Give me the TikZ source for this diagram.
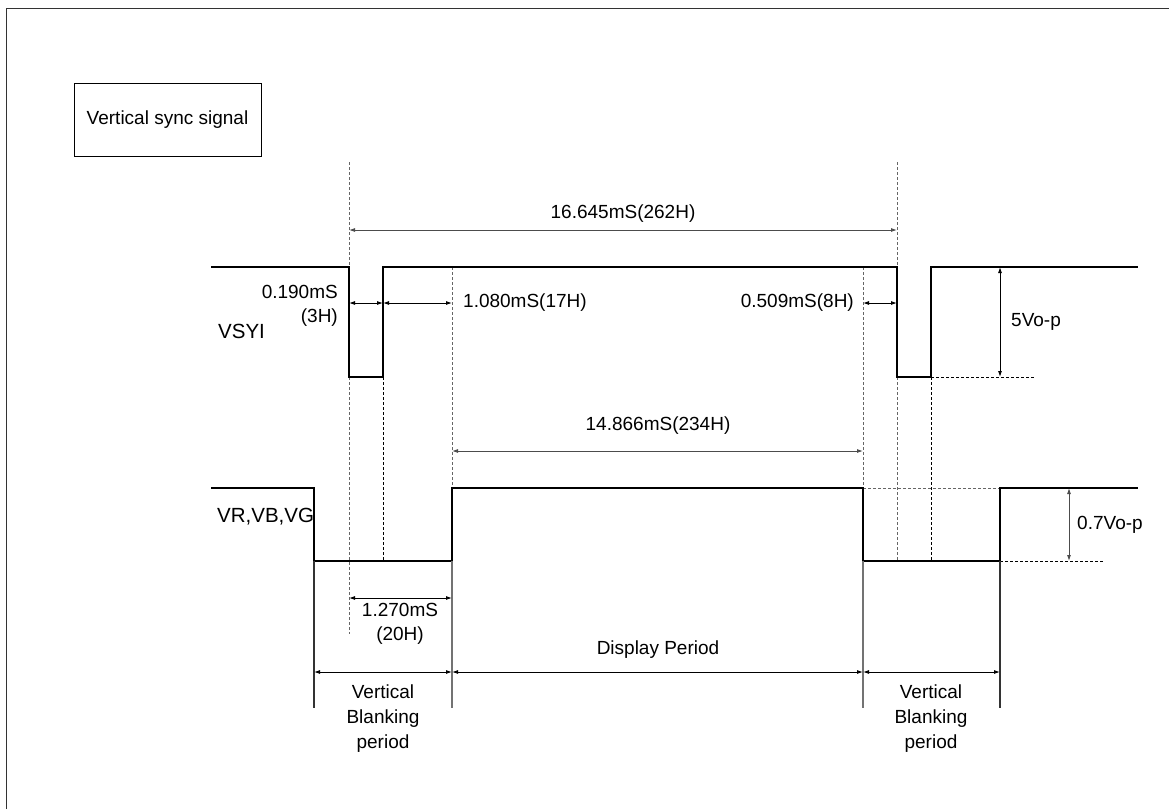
\documentclass[tikz,border=0pt]{standalone}
\usepackage{fontspec}
\setmainfont{Liberation Sans}
\usetikzlibrary{arrows.meta}
\begin{document}
\begin{tikzpicture}[x=1pt,y=-1pt,
  sig/.style={line width=1.6pt,black},
  guide/.style={densely dashed,line width=0.8pt,black!60},
  guideb/.style={densely dashed,line width=0.8pt,black},
  dim/.style={line width=0.9pt,black!70,{Latex[length=6pt,width=4pt]}-{Latex[length=6pt,width=4pt]}},
  tick/.style={line width=1.1pt,black!80},
  lbl/.style={font=\fontsize{19}{21}\selectfont,inner sep=0pt},
  big/.style={font=\fontsize{20.5}{23}\selectfont,inner sep=0pt}]
\useasboundingbox (0,0) rectangle (1169,809);
% frame
\draw[line width=0.8pt,black!80] (6,809) -- (6,8) -- (1169,8);
% title box
\node[draw,line width=0.8pt,minimum width=187pt,minimum height=73pt,lbl] (title) at (167.5,119.5) {Vertical sync signal};
% key coordinates
\coordinate (a1) at (349,162); \coordinate (a2) at (349,634);
\coordinate (b1) at (383,377); \coordinate (b2) at (383,561);
\coordinate (c1) at (452,267); \coordinate (c2) at (452,488);
\coordinate (d1) at (863,267); \coordinate (d2) at (863,488);
\coordinate (e1) at (897,162); \coordinate (e2) at (897,561);
\coordinate (f1) at (931,377); \coordinate (f2) at (931,561);
% guides
\draw[guide] (a1) -- (a2);
\draw[guideb] (b1) -- (b2);
\draw[guide] (c1) -- (c2);
\draw[guide] (d1) -- (d2);
\draw[guide] (e1) -- (e2);
\draw[guideb] (f1) -- (f2);
\coordinate (g1) at (931,377); \coordinate (g2) at (1035,377);
\draw[guideb] (g1) -- (g2);
\coordinate (h1) at (863,488); \coordinate (h2) at (1000,488);
\draw[guide] (h1) -- (h2);
\coordinate (i1) at (1000,561); \coordinate (i2) at (1103,561);
\draw[guideb] (i1) -- (i2);
% VSYI signal
\draw[sig] (211,267) -- (349,267) -- (349,377) -- (383,377) -- (383,267) -- (897,267) -- (897,377) -- (931,377) -- (931,267) -- (1138,267);
% VR signal
\draw[sig] (211,488) -- (314,488) -- (314,561) -- (452,561) -- (452,488) -- (863,488) -- (863,561) -- (1000,561) -- (1000,488) -- (1138,488);
% bottom ticks
\coordinate (t1a) at (314,561); \coordinate (t1b) at (314,708);
\coordinate (t2a) at (452,561); \coordinate (t2b) at (452,708);
\coordinate (t3a) at (863,561); \coordinate (t3b) at (863,708);
\coordinate (t4a) at (1000,561); \coordinate (t4b) at (1000,708);
\draw[tick] (t1a) -- (t1b);
\draw[tick,black!55] (t2a) -- (t2b);
\draw[tick,black!55] (t3a) -- (t3b);
\draw[tick] (t4a) -- (t4b);
% dimension arrows
\coordinate (p1) at (349,230); \coordinate (p2) at (897,230);
\draw[dim] (p1) -- (p2);
\coordinate (q1) at (349,303); \coordinate (q2) at (383,303); \coordinate (q3) at (452,303);
\draw[dim,black] (q1) -- (q2);
\draw[dim,black] (q2) -- (q3);
\coordinate (r1) at (863,303); \coordinate (r2) at (897,303);
\draw[dim,black] (r1) -- (r2);
\coordinate (s1) at (452,451); \coordinate (s2) at (863,451);
\draw[dim] (s1) -- (s2);
\coordinate (u1) at (1000,267); \coordinate (u2) at (1000,377);
\draw[dim,black] (u1) -- (u2);
\coordinate (v1) at (1069,488); \coordinate (v2) at (1069,561);
\draw[dim] (v1) -- (v2);
\coordinate (w1) at (349,598); \coordinate (w2) at (452,598);
\draw[dim,black] (w1) -- (w2);
\coordinate (x1) at (314,672); \coordinate (x2) at (452,672); \coordinate (x3) at (863,672); \coordinate (x4) at (1000,672);
\draw[dim,black] (x1) -- (x2);
\draw[dim,black] (x2) -- (x3);
\draw[dim,black] (x3) -- (x4);
% labels
\node[big,anchor=west] (vsyi) at (218,331) {VSYI};
\node[big,anchor=west] (vr) at (217,517) {VR,VB,VG};
\node[lbl] (l16) at (623,214) {16.645mS(262H)};
\node[lbl,anchor=east] (l190) at (338,292) {0.190mS};
\node[lbl,anchor=east] (l3h) at (338,318) {(3H)};
\node[lbl,anchor=west] (l108) at (463,303) {1.080mS(17H)};
\node[lbl,anchor=east] (l509) at (854,303) {0.509mS(8H)};
\node[lbl,anchor=west] (l5v) at (1011,322) {5Vo-p};
\node[lbl] (l148) at (658,426) {14.866mS(234H)};
\node[lbl,anchor=west] (l07) at (1077,525) {0.7Vo-p};
\node[lbl] (l127) at (400,610) {1.270mS};
\node[lbl] (l20h) at (400,636) {(20H)};
\node[lbl] (disp) at (658,650) {Display Period};
\node[lbl,align=center,font=\fontsize{19}{25}\selectfont] (vb1) at (383,719) {Vertical\\Blanking\\period};
\node[lbl,align=center,font=\fontsize{19}{25}\selectfont] (vb2) at (931,719) {Vertical\\Blanking\\period};
\end{tikzpicture}
\end{document}
